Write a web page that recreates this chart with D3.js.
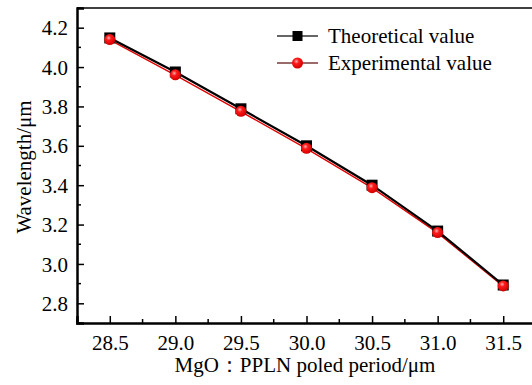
<!DOCTYPE html>
<html>
<head>
<meta charset="utf-8">
<script src="https://cdn.jsdelivr.net/npm/d3@7"></script>
<style>
  body { margin: 0; background: #fff; }
  text { font-family: "Liberation Serif", "Times New Roman", serif; fill: #000; }
</style>
</head>
<body>
<div id="chart"></div>
<script>
// data
const period = [28.5, 29.0, 29.5, 30.0, 30.5, 31.0, 31.5];
const theoretical = [4.148, 3.975, 3.788, 3.600, 3.400, 3.167, 2.893];
const experimental = [4.142, 3.963, 3.778, 3.590, 3.390, 3.162, 2.891];
const xTicks = [28.5, 29.0, 29.5, 30.0, 30.5, 31.0, 31.5];
const yTicks = [2.8, 3.0, 3.2, 3.4, 3.6, 3.8, 4.0, 4.2];

const svgWidth = 532;
const svgHeight = 385;

const svg = d3.select("#chart")
  .append("svg")
  .attr("width", svgWidth)
  .attr("height", svgHeight);

const x = d3.scaleLinear().domain([28.25, 31.75]).range([77, 536]);
const y = d3.scaleLinear().domain([2.7, 4.3]).range([323, 8]);

// red ball gradient
const defs = svg.append("defs");
const grad = defs.append("radialGradient")
  .attr("id", "ball")
  .attr("cx", "40%").attr("cy", "35%").attr("r", "65%");
grad.append("stop").attr("offset", "0%").attr("stop-color", "#ffb0b0");
grad.append("stop").attr("offset", "35%").attr("stop-color", "#ff1a1a");
grad.append("stop").attr("offset", "100%").attr("stop-color", "#d00000");

// frame: top line, left and bottom axes
svg.append("line")
  .attr("x1", x(28.25)).attr("x2", svgWidth)
  .attr("y1", y(4.3)).attr("y2", y(4.3))
  .attr("stroke", "#000").attr("stroke-width", 1.5);

const bottomAxis = d3.axisBottom(x)
  .tickValues(xTicks)
  .tickSize(-7)
  .tickFormat(d3.format(".1f"));

const leftAxis = d3.axisLeft(y)
  .tickValues(yTicks)
  .tickSize(-7)
  .tickFormat(d3.format(".1f"));

// minor ticks
const xMinor = d3.range(28.25, 31.76, 0.5);
const yMinor = d3.range(2.7, 4.31, 0.2);

svg.append("g").selectAll("line")
  .data(xMinor)
  .enter()
  .append("line")
  .attr("x1", d => x(d)).attr("x2", d => x(d))
  .attr("y1", y(2.7)).attr("y2", y(2.7) - 4)
  .attr("stroke", "#000").attr("stroke-width", 1.5);

svg.append("g").selectAll("line")
  .data(yMinor)
  .enter()
  .append("line")
  .attr("x1", x(28.25)).attr("x2", x(28.25) + 4)
  .attr("y1", d => y(d)).attr("y2", d => y(d))
  .attr("stroke", "#000").attr("stroke-width", 1.5);

const gx = svg.append("g")
  .attr("transform", `translate(0, ${y(2.7)})`)
  .call(bottomAxis);

const gy = svg.append("g")
  .attr("transform", `translate(${x(28.25)}, 0)`)
  .call(leftAxis);

[gx, gy].forEach(g => {
  g.attr("font-family", null);
  g.select(".domain").attr("stroke", "#000").attr("stroke-width", 2.5);
  g.selectAll(".tick line").attr("stroke", "#000").attr("stroke-width", 1.5);
  g.selectAll(".tick text")
    .attr("font-size", 21)
    .attr("fill", "#000");
});
gx.selectAll(".tick text").attr("dy", null).attr("y", 27);
gy.selectAll(".tick text").attr("x", -9).attr("dy", "0.34em");

// axis titles
svg.append("text")
  .attr("x", 305)
  .attr("y", 372)
  .attr("text-anchor", "middle")
  .attr("font-size", 21)
  .text("MgO\uFF1APPLN poled period/\u03BCm");

svg.append("text")
  .attr("transform", "rotate(-90)")
  .attr("x", -167)
  .attr("y", 31)
  .attr("text-anchor", "middle")
  .attr("font-size", 21)
  .text("Wavelength/\u03BCm");

// lines
const lineT = d3.line()
  .x((d, i) => x(period[i]))
  .y(d => y(d));

svg.append("path")
  .datum(experimental)
  .attr("d", lineT)
  .attr("fill", "none")
  .attr("stroke", "#e00000")
  .attr("stroke-width", 1.4)
  .attr("transform", "translate(0, 0.8)");

svg.append("path")
  .datum(theoretical)
  .attr("d", lineT)
  .attr("fill", "none")
  .attr("stroke", "#000")
  .attr("stroke-width", 2.2);

// markers
svg.append("g").selectAll("rect")
  .data(theoretical)
  .enter()
  .append("rect")
  .attr("x", (d, i) => x(period[i]) - 5.5)
  .attr("y", d => y(d) - 5.5)
  .attr("width", 11)
  .attr("height", 11)
  .attr("fill", "#000");

svg.append("g").selectAll("circle")
  .data(experimental)
  .enter()
  .append("circle")
  .attr("cx", (d, i) => x(period[i]))
  .attr("cy", d => y(d) + 0.5)
  .attr("r", 5.5)
  .attr("fill", "url(#ball)");

// legend
const legend = [
  { name: "Theoretical value", color: "#333", marker: "square", yPos: 36 },
  { name: "Experimental value", color: "#7a3a3a", marker: "circle", yPos: 63 }
];

const lg = svg.append("g");
legend.forEach(item => {
  lg.append("line")
    .attr("x1", 277).attr("x2", 318)
    .attr("y1", item.yPos).attr("y2", item.yPos)
    .attr("stroke", item.color).attr("stroke-width", 1.5);
  if (item.marker === "square") {
    lg.append("rect")
      .attr("x", 292.5).attr("y", item.yPos - 5)
      .attr("width", 10).attr("height", 10)
      .attr("fill", "#000");
  } else {
    lg.append("circle")
      .attr("cx", 297.5).attr("cy", item.yPos)
      .attr("r", 5.5)
      .attr("fill", "url(#ball)");
  }
  lg.append("text")
    .attr("x", 328)
    .attr("y", item.yPos + 7)
    .attr("font-size", 21)
    .text(item.name);
});
</script>
</body>
</html>
